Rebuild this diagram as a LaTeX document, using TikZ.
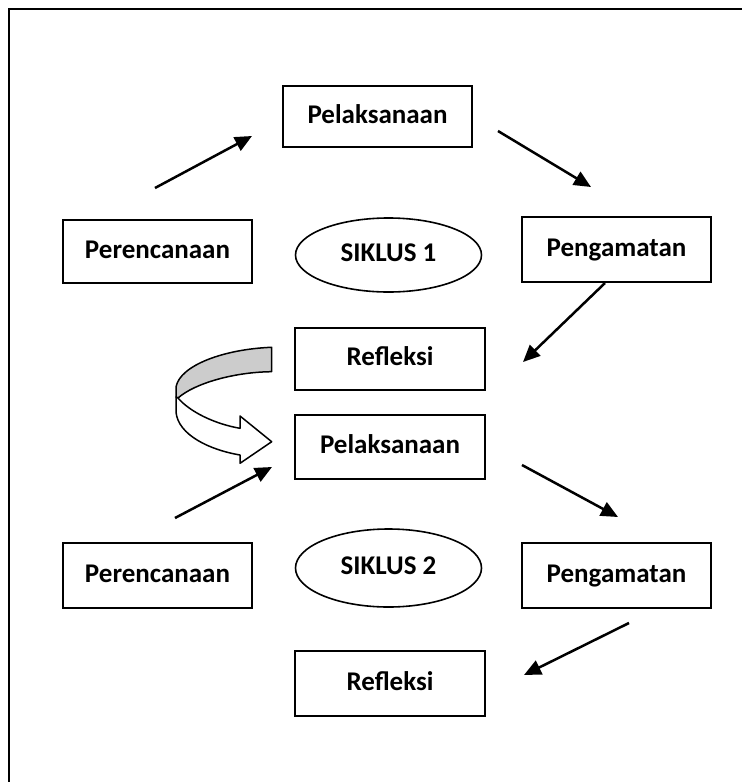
\documentclass[tikz,border=0pt]{standalone}
\usepackage{fontspec}
\setmainfont{Carlito}
\usetikzlibrary{arrows.meta,shapes.geometric}
\begin{document}
\begin{tikzpicture}[x=1pt,y=-1pt,
  lbl/.style={font=\fontsize{27}{31}\selectfont\bfseries,text height=21pt,text depth=8pt},
  box/.style={lbl,draw,line width=2.1pt,inner sep=0pt,minimum width=189pt,minimum height=63pt},
  oval/.style={lbl,ellipse,draw,line width=1.6pt,inner sep=0pt,minimum width=186pt,minimum height=74pt},
  arr/.style={line width=2.5pt,-{Triangle[length=17pt,width=15pt]}},
  bandline/.style={line width=1.5pt,line join=round}]
\useasboundingbox (0,0) rectangle (742,782);
\draw[line width=2.2pt] (9,782) -- (9,9) -- (742,9);

% cycle 1
\node[box,minimum height=61pt] (p1) at (377.5,116.5) {Pelaksanaan};
\node[box] (r1) at (157.5,251.5) {Perencanaan};
\node[oval] (s1) at (388.5,255) {SIKLUS 1};
\node[box,minimum height=65pt] (g1) at (616.5,249.5) {Pengamatan};
\node[box,minimum width=190pt,minimum height=62pt] (f1) at (390,359) {Refleksi};

% cycle 2
\node[box,minimum width=190pt,minimum height=64pt] (p2) at (390,447) {Pelaksanaan};
\node[box,minimum height=65pt] (r2) at (157.5,575.5) {Perencanaan};
\node[oval,minimum height=78pt] (s2) at (388.5,568) {SIKLUS 2};
\node[box,minimum height=65pt] (g2) at (616.5,575.5) {Pengamatan};
\node[box,minimum width=190pt,minimum height=65pt] (f2) at (390,683.5) {Refleksi};

% arrow end points
\coordinate (a1s) at (155,188); \coordinate (a1e) at (252,136);
\coordinate (a2s) at (498,131); \coordinate (a2e) at (591,187);
\coordinate (a3s) at (605,283); \coordinate (a3e) at (523,362);
\coordinate (a4s) at (175,518); \coordinate (a4e) at (272,467);
\coordinate (a5s) at (522,465); \coordinate (a5e) at (618,517);
\coordinate (a6s) at (629,623); \coordinate (a6e) at (524,675);

\draw[arr] (a1s) -- (a1e);
\draw[arr] (a2s) -- (a2e);
\draw[arr] (a3s) -- (a3e);
\draw[arr] (a4s) -- (a4e);
\draw[arr] (a5s) -- (a5e);
\draw[arr] (a6s) -- (a6e);

% curved block arrow
\draw[bandline,fill=black!20] (271.7,347.3) .. controls (225,349) and (180,365) .. (176,387)
  -- (176,397) -- (178,398) .. controls (195,383) and (235,372) .. (271.7,371.7) -- cycle;
\draw[bandline,fill=white] (178,398) .. controls (190,412) and (215,424) .. (240,428.3)
  -- (240,416) -- (271.7,441.7) -- (240,463.3) -- (240,455)
  .. controls (210,450) and (178,435) .. (176,412) -- (176,397) -- cycle;
\end{tikzpicture}
\end{document}
